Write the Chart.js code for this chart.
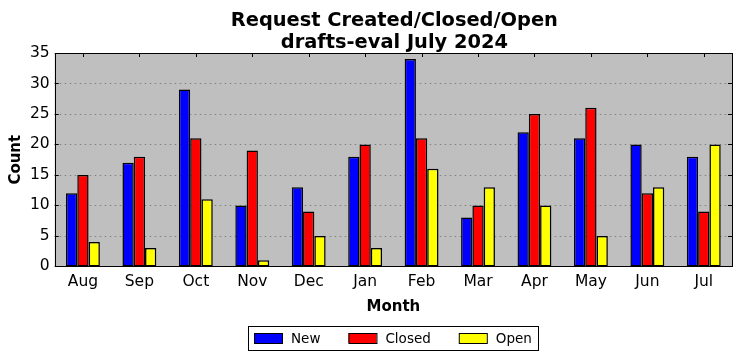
<!DOCTYPE html>
<html>
<head>
<meta charset="utf-8">
<script src="https://cdn.jsdelivr.net/npm/chart.js@4/dist/chart.umd.min.js"></script>
<style>
html,body{margin:0;padding:0;background:#fff;}
#wrap{width:742px;height:361px;position:relative;}
</style>
</head>
<body>
<div id="wrap"><canvas id="c" width="742" height="361"></canvas></div>
<script>
const months = ["Aug","Sep","Oct","Nov","Dec","Jan","Feb","Mar","Apr","May","Jun","Jul"];
const newCounts = [12,17,29,10,13,18,34,8,22,21,20,18];
const closedCounts = [15,18,21,19,9,20,21,10,25,26,12,9];
const openCounts = [4,3,11,1,5,3,16,13,10,5,13,20];
const yTicks = [0,5,10,15,20,25,30,35];
const titleLines = ['Request Created/Closed/Open', 'drafts-eval July 2024'];

const FONT = "'DejaVu Sans', sans-serif";

const frame = {
  id: 'frame',
  beforeDatasetsDraw(chart) {
    const {ctx, chartArea: a} = chart;
    const x = chart.scales.x;
    ctx.save();
    ctx.fillStyle = '#bfbfbf';
    ctx.fillRect(a.left, a.top, a.right - a.left, a.bottom - a.top);
    const y = chart.scales.y;
    ctx.strokeStyle = '#808080';
    ctx.lineWidth = 1;
    ctx.setLineDash([1.5, 3.5]);
    yTicks.forEach(v => {
      if (v === 0 || v === 35) return;
      const py = Math.round(y.getPixelForValue(v)) + 0.5;
      ctx.beginPath(); ctx.moveTo(a.left, py); ctx.lineTo(a.right, py); ctx.stroke();
    });
    ctx.setLineDash([]);
    ctx.strokeStyle = '#000';
    months.forEach((m, i) => {
      const px = Math.round(x.getPixelForValue(i)) + 0.5;
      ctx.beginPath(); ctx.moveTo(px, a.top); ctx.lineTo(px, a.top + 4); ctx.stroke();
      ctx.beginPath(); ctx.moveTo(px, a.bottom); ctx.lineTo(px, a.bottom - 4); ctx.stroke();
    });
    ctx.restore();
  },
  afterDatasetsDraw(chart) {
    const {ctx, chartArea: a} = chart;
    const y = chart.scales.y;
    ctx.save();
    ctx.strokeStyle = '#000';
    ctx.lineWidth = 1;
    ctx.setLineDash([]);
    yTicks.forEach(v => {
      const py = Math.round(y.getPixelForValue(v)) + 0.5;
      ctx.beginPath(); ctx.moveTo(a.left, py); ctx.lineTo(a.left + 4, py); ctx.stroke();
      ctx.beginPath(); ctx.moveTo(a.right, py); ctx.lineTo(a.right - 4, py); ctx.stroke();
    });
    ctx.strokeRect(Math.round(a.left) + 0.5, Math.round(a.top) + 0.5, Math.round(a.right - a.left), Math.round(a.bottom - a.top));
    ctx.restore();
  },
  afterDraw(chart) {
    const {ctx, chartArea: a} = chart;
    const cx = (a.left + a.right) / 2;
    ctx.save();
    ctx.fillStyle = '#000';
    ctx.font = "bold 19.4px " + FONT;
    ctx.textAlign = 'center';
    ctx.textBaseline = 'alphabetic';
    ctx.fillText(titleLines[0], cx + 1, 26);
    ctx.fillText(titleLines[1], cx + 1, 48);
    const items = chart.data.datasets.map(d => ({label: d.label, color: d.backgroundColor}));
    ctx.font = "13.5px " + FONT;
    const pad = 6, sw = 28, gap = 9, between = 28;
    const widths = items.map(it => ctx.measureText(it.label).width);
    let total = pad * 2;
    widths.forEach((w, i) => { total += sw + gap + w + (i < items.length - 1 ? between : 0); });
    const left = Math.round(cx - total / 2);
    const top = 326, h = 24;
    ctx.fillStyle = '#fff';
    ctx.fillRect(left, top, total, h);
    ctx.strokeStyle = '#000';
    ctx.lineWidth = 1;
    ctx.strokeRect(left + 0.5, top + 0.5, Math.round(total), h);
    let xx = left + pad;
    ctx.textAlign = 'left';
    ctx.textBaseline = 'middle';
    items.forEach((it, i) => {
      ctx.fillStyle = it.color;
      ctx.fillRect(xx, top + 7, sw, 10);
      ctx.strokeRect(xx + 0.5, top + 7.5, sw, 10);
      ctx.fillStyle = '#000';
      ctx.fillText(it.label, xx + sw + gap, top + h / 2 + 1);
      xx += sw + gap + widths[i] + between;
    });
    ctx.restore();
  }
};

new Chart(document.getElementById('c'), {
  type: 'bar',
  data: {
    labels: months,
    datasets: [
      {label: 'New', data: newCounts, backgroundColor: '#0000ff', borderColor: '#000', borderWidth: 1.5, borderSkipped: false, inflateAmount: 0},
      {label: 'Closed', data: closedCounts, backgroundColor: '#ff0000', borderColor: '#000', borderWidth: 1.5, borderSkipped: false, inflateAmount: 0},
      {label: 'Open', data: openCounts, backgroundColor: '#ffff00', borderColor: '#000', borderWidth: 1.5, borderSkipped: false, inflateAmount: 0}
    ]
  },
  options: {
    responsive: false,
    animation: false,
    devicePixelRatio: 1,
    layout: {padding: {left: 0, right: 10, top: 53, bottom: 45}},
    datasets: {bar: {categoryPercentage: 0.6, barPercentage: 1.0}},
    plugins: {
      title: {display: false},
      legend: {display: false},
      tooltip: {enabled: false}
    },
    scales: {
      x: {
        grid: {display: false, drawTicks: false},
        border: {display: false},
        ticks: {color: '#000', font: {family: FONT, size: 15.5}, padding: 6, maxRotation: 0},
        title: {display: true, text: 'Month', color: '#000', font: {family: FONT, size: 15, weight: 'bold'}, padding: {top: 1, bottom: 0}}
      },
      y: {
        min: 0, max: 35,
        grid: {display: false, drawTicks: false},
        border: {display: false},
        ticks: {stepSize: 5, color: '#000', font: {family: FONT, size: 15.5}, padding: 5},
        title: {display: true, text: 'Count', color: '#000', font: {family: FONT, size: 15, weight: 'bold'}, padding: {top: 7, bottom: 0}}
      }
    }
  },
  plugins: [frame]
});
</script>
</body>
</html>
